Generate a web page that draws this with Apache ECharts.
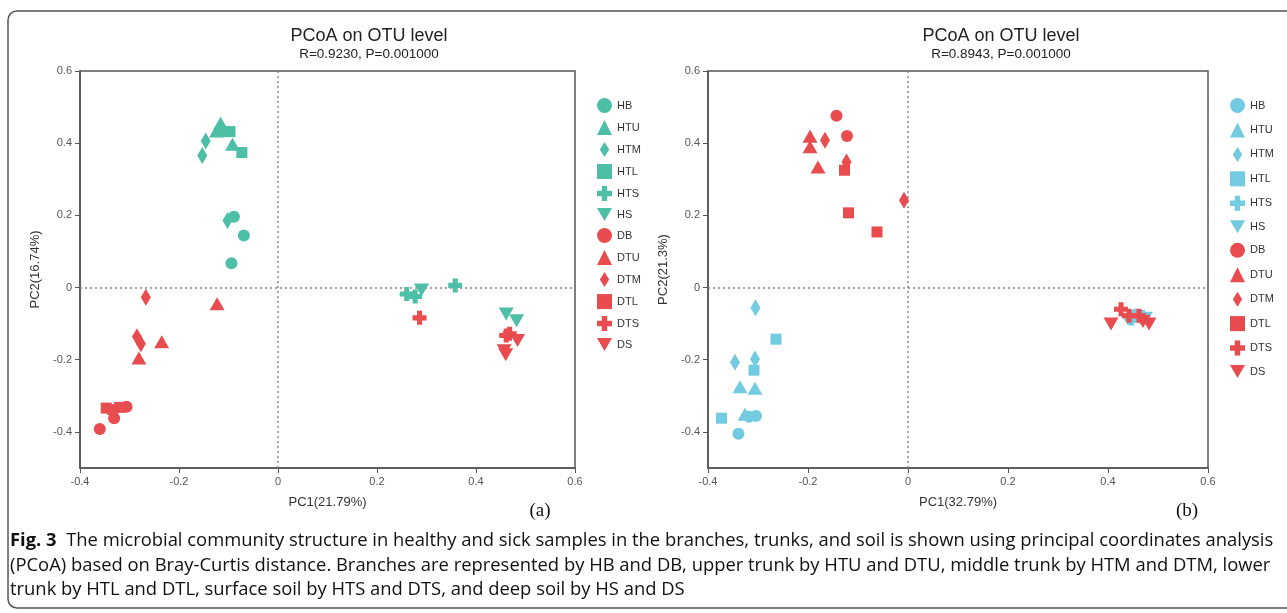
<!DOCTYPE html>
<html>
<head>
<meta charset="utf-8">
<script src="https://cdn.jsdelivr.net/npm/echarts@6/dist/echarts.min.js"></script>
<style>
html,body{margin:0;padding:0;background:#fff;}
#c{width:1287px;height:613px;}
</style>
</head>
<body>
<div id="c"></div>
<script>
// ---------- data ----------
const groups = ['HB','HTU','HTM','HTL','HTS','HS','DB','DTU','DTM','DTL','DTS','DS'];
const xTicks = [-0.4,-0.2,0,0.2,0.4,0.6];
const yTicks = [-0.4,-0.2,0,0.2,0.4,0.6];

// panel (a)
const a_HB  = [[-0.089,0.196],[-0.069,0.144],[-0.094,0.067]];
const a_HTU = [[-0.116,0.455],[-0.124,0.434],[-0.092,0.397]];
const a_HTM = [[-0.146,0.406],[-0.153,0.366],[-0.102,0.186]];
const a_HTL = [[-0.112,0.432],[-0.097,0.432],[-0.073,0.374]];
const a_HTS = [[0.260,-0.018],[0.277,-0.025],[0.358,0.006]];
const a_HS  = [[0.290,-0.007],[0.461,-0.073],[0.482,-0.092]];
const a_DB  = [[-0.306,-0.330],[-0.331,-0.362],[-0.360,-0.392]];
const a_DTU = [[-0.123,-0.045],[-0.235,-0.150],[-0.281,-0.195]];
const a_DTM = [[-0.267,-0.027],[-0.285,-0.136],[-0.277,-0.156]];
const a_DTL = [[-0.347,-0.334],[-0.334,-0.338],[-0.320,-0.332]];
const a_DTS = [[0.286,-0.084],[0.461,-0.133],[0.468,-0.128]];
const a_DS  = [[0.484,-0.147],[0.457,-0.175],[0.460,-0.186]];

// panel (b)
const b_HB  = [[-0.318,-0.358],[-0.304,-0.356],[-0.339,-0.405]];
const b_HTU = [[-0.336,-0.275],[-0.306,-0.279],[-0.326,-0.351]];
const b_HTM = [[-0.305,-0.056],[-0.346,-0.207],[-0.306,-0.198]];
const b_HTL = [[-0.264,-0.143],[-0.308,-0.229],[-0.373,-0.362]];
const b_HTS = [[0.447,-0.086],[0.468,-0.082],[0.455,-0.078]];
const b_HS  = [[0.475,-0.085],[0.460,-0.080],[0.440,-0.088]];
const b_DB  = [[-0.143,0.476],[-0.122,0.420]];
const b_DTU = [[-0.196,0.419],[-0.196,0.390],[-0.180,0.334]];
const b_DTM = [[-0.166,0.408],[-0.123,0.348],[-0.008,0.242]];
const b_DTL = [[-0.127,0.325],[-0.119,0.207],[-0.062,0.154]];
const b_DTS = [[0.426,-0.060],[0.442,-0.078],[0.462,-0.078]];
const b_DS  = [[0.406,-0.101],[0.482,-0.101],[0.470,-0.094]];

const panelA = [a_HB,a_HTU,a_HTM,a_HTL,a_HTS,a_HS,a_DB,a_DTU,a_DTM,a_DTL,a_DTS,a_DS];
const panelB = [b_HB,b_HTU,b_HTM,b_HTL,b_HTS,b_HS,b_DB,b_DTU,b_DTM,b_DTL,b_DTS,b_DS];

// ---------- styles ----------
const TEAL = '#4dbfa6', RED = '#e84c4f', BLUE = '#72cbe0';
const CROSS = 'path://M3.2,0 H6.8 V3.2 H10 V6.8 H6.8 V10 H3.2 V6.8 H0 V3.2 H3.2 Z';
const INVTRI = 'path://M0,0 L10,0 L5,8.7 Z';
const TALLDIAMOND = 'path://M5,0 L10,8 L5,16 L0,8 Z';
const symbols = ['circle','triangle','diamond','rect',CROSS,INVTRI];
const legendIcons = ['circle','triangle',TALLDIAMOND,'rect',CROSS,INVTRI];
const sizes = [12,[15,13],[10,17],11,14,[15,13]];
const FONT = 'Liberation Sans';

function fmt(v){ return String(+(+v).toFixed(1)); }

function axes(idx, name, isY){
  const base = {
    gridIndex: idx, type:'value', name: name, nameLocation:'middle',
    nameTextStyle:{fontSize:13, color:'#333', fontFamily:FONT},
    axisLine:{show:true, onZero:false, lineStyle:{color:'#555', width:1.5}},
    axisTick:{show:true, length:5, lineStyle:{color:'#555', width:1}},
    axisLabel:{fontSize:11, color:'#555', fontFamily:FONT, margin:8, formatter:fmt},
    splitLine:{show:false}
  };
  if (isY) {
    base.min = -0.5; base.max = 0.6; base.nameGap = 38;
    base.axisTick.customValues = yTicks;
    base.axisLabel.customValues = yTicks;
  } else {
    base.min = -0.4; base.max = 0.6; base.interval = 0.2; base.nameGap = 28;
    base.axisLabel.customValues = xTicks;
    base.axisTick.customValues = xTicks;
  }
  return base;
}

const series = [];
[panelA, panelB].forEach(function(panel, p){
  const hColor = p === 0 ? TEAL : BLUE;
  panel.forEach(function(data, g){
    const s = {
      type:'scatter', name:(p===0?'a:':'b:') + groups[g],
      xAxisIndex:p, yAxisIndex:p, data:data,
      symbol:symbols[g % 6], symbolSize:sizes[g % 6],
      itemStyle:{color: g < 6 ? hColor : RED, opacity:1},
      emphasis:{disabled:true}, z: g < 6 ? 3 : 4
    };
    if (g === 0) {
      s.markLine = {
        silent:true, symbol:'none', animation:false, z:1,
        label:{show:false},
        lineStyle:{type:[2,3], color:'#888', width:1.5},
        data:[{xAxis:0},{yAxis:0}]
      };
    }
    series.push(s);
  });
});

function legendFor(p, left, gap){
  return {
    orient:'vertical', left:left, top:98, padding:0, itemWidth:15, itemHeight:15, itemGap:gap,
    itemTextGap:5, selectedMode:false,
    textStyle:{fontSize:11, color:'#333', fontFamily:FONT},
    formatter:function(n){ return n.split(':')[1]; },
    data: groups.map(function(g, i){ return {name:(p===0?'a:':'b:') + g, icon:legendIcons[i % 6]}; })
  };
}

const titleStyle = {fontSize:18, fontWeight:'normal', color:'#222', fontFamily:FONT};
const subStyle = {fontSize:13.5, color:'#222', fontFamily:FONT};

const option = {
  animation:false,
  backgroundColor:'#fff',
  title:[
    {text:'PCoA on OTU level', subtext:'R=0.9230, P=0.001000', left:369, top:27, padding:0, textAlign:'center', itemGap:2, textStyle:titleStyle, subtextStyle:subStyle},
    {text:'PCoA on OTU level', subtext:'R=0.8943, P=0.001000', left:1001, top:27, padding:0, textAlign:'center', itemGap:2, textStyle:titleStyle, subtextStyle:subStyle}
  ],
  grid:[
    {left:80, top:71, width:495, height:397, show:true, borderColor:'#555', borderWidth:1.5},
    {left:708, top:71, width:500, height:397, show:true, borderColor:'#555', borderWidth:1.5}
  ],
  xAxis:[axes(0,'PC1(21.79%)',false), axes(1,'PC1(32.79%)',false)],
  yAxis:[axes(0,'PC2(16.74%)',true), axes(1,'PC2(21.3%)',true)],
  legend:[legendFor(0,597,7.0), legendFor(1,1230,9.45)],
  series:series,
  graphic:[
    {type:'rect', shape:{x:8, y:11, width:1300, height:597, r:9}, style:{fill:'none', stroke:'#555', lineWidth:1.5}, silent:true},
    {type:'text', x:540, y:511, style:{text:'(a)', font:'19px "Liberation Serif"', fill:'#111', align:'center', verticalAlign:'middle'}},
    {type:'text', x:1187, y:511, style:{text:'(b)', font:'19px "Liberation Serif"', fill:'#111', align:'center', verticalAlign:'middle'}},
    {type:'text', x:10, y:541, style:{
      text:'{b|Fig. 3}  The microbial community structure in healthy and sick samples in the branches, trunks, and soil is shown using principal coordinates analysis',
      font:'18.4px "Open Sans"', fill:'#111', verticalAlign:'middle',
      rich:{b:{font:'bold 18.4px "Open Sans"', fill:'#111'}}
    }},
    {type:'text', x:10, y:566, style:{
      text:'(PCoA) based on Bray-Curtis distance. Branches are represented by HB and DB, upper trunk by HTU and DTU, middle trunk by HTM and DTM, lower',
      font:'18.4px "Open Sans"', fill:'#111', verticalAlign:'middle'}},
    {type:'text', x:10, y:590, style:{
      text:'trunk by HTL and DTL, surface soil by HTS and DTS, and deep soil by HS and DS',
      font:'18.4px "Open Sans"', fill:'#111', verticalAlign:'middle'}}
  ]
};

const chart = echarts.init(document.getElementById('c'), null, {renderer:'canvas'});
chart.setOption(option);
</script>
</body>
</html>
